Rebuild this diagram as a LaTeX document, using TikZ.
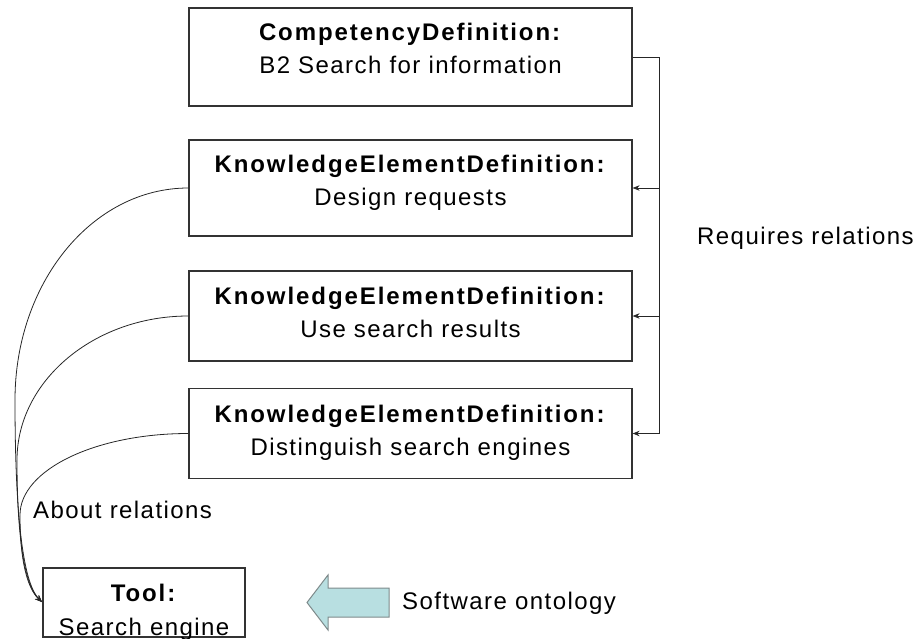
\documentclass[tikz,border=0pt]{standalone}
\usepackage{fontspec}
\setmainfont[LetterSpace=6,BoldFeatures={LetterSpace=8}]{Liberation Sans}
\usetikzlibrary{arrows.meta}
\definecolor{arrowfill}{HTML}{B8DFE1}
\definecolor{arrowline}{HTML}{7E8A8B}
\begin{document}
\begin{tikzpicture}[x=1pt,y=-1pt,
  box/.style={draw=black!80,line width=1.2pt,inner sep=0pt},
  lbl/.style={align=center,font=\fontsize{24}{33}\selectfont,inner sep=0pt,anchor=north},
  txt/.style={font=\fontsize{24}{28}\selectfont,inner sep=0pt,anchor=west},
  conn/.style={line width=0.8pt,black!85},
  tip/.style={-{Stealth[length=7pt,width=5.5pt]}}]
\useasboundingbox (0,0) rectangle (920,639);
% boxes
\node[box,minimum width=443pt,minimum height=98pt] (b1) at (410.5,57) {};
\node[box,minimum width=443pt,minimum height=96pt] (b2) at (410.5,188) {};
\node[box,minimum width=443pt,minimum height=90pt] (b3) at (410.5,316) {};
\node[box,minimum width=443pt,minimum height=90pt] (b4) at (410.5,433.5) {};
\node[box,minimum width=202pt,minimum height=69pt] (tool) at (144,602.5) {};
% texts
\node[lbl] (t1) at (410.5,23) {\textbf{CompetencyDefinition:}\\B2 Search for information};
\node[lbl] (t2) at (410.5,154.5) {\textbf{KnowledgeElementDefinition:}\\Design requests};
\node[lbl] (t3) at (410.5,286.5) {\textbf{KnowledgeElementDefinition:}\\Use search results};
\node[lbl] (t4) at (410.5,404.5) {\textbf{KnowledgeElementDefinition:}\\Distinguish search engines};
\node[lbl,font=\fontsize{24}{34}\selectfont] (t5) at (144,583.5) {\textbf{Tool:}\\Search engine};
% labels
\node[txt] (req) at (697,238) {Requires relations};
\node[txt] (about) at (33,510) {About relations};
\node[txt] (soft) at (402,603) {Software ontology};
% requires relations
\coordinate (r0) at (659,57);
\coordinate (r4) at (659,433.5);
\draw[conn] (b1.east) -- (r0) -- (r4);
\draw[conn,tip] (659,188) -- (b2.east);
\draw[conn,tip] (659,316) -- (b3.east);
\draw[conn,tip] (r4) -- (b4.east);
% about relations
\coordinate (ta) at (42,602);
\draw[conn,tip] (b2.west) .. controls (92,188) and (15,283) .. (15,400) .. controls (15,530) and (25,585) .. (ta);
\draw[conn,tip] (b3.west) .. controls (94,316) and (17,381) .. (17,460) .. controls (17,540) and (25,586) .. (ta);
\draw[conn,tip] (b4.west) .. controls (95,433.5) and (20,470) .. (20,515) .. controls (20,560) and (27,588) .. (ta);
% software ontology arrow
\draw[draw=arrowline,fill=arrowfill,line width=1pt,line join=miter]
  (389,588) -- (328,588) -- (328,575) -- (307,602.5) -- (328,630) -- (328,617) -- (389,617) -- cycle;
\end{tikzpicture}
\end{document}
